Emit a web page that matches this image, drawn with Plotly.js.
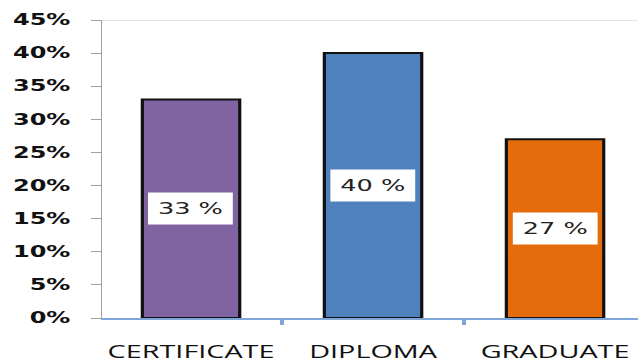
<!DOCTYPE html>
<html>
<head>
<meta charset="utf-8">
<script src="https://cdn.plot.ly/plotly-3.0.1.min.js"></script>
<style>
  html, body { margin: 0; padding: 0; background: #ffffff; overflow: hidden; }
  #wrap { width: 638px; height: 362px; overflow: hidden; }
  /* the chart is laid out narrow and widened horizontally */
  #chart { width: 399px; height: 362px; transform: scaleX(1.6); transform-origin: 0 0; }
</style>
</head>
<body>
<div id="wrap"><div id="chart"></div></div>
<script>
// Share of enrolment by qualification level
const categories = ['CERTIFICATE', 'DIPLOMA', 'GRADUATE'];
const shares = [0.33, 0.40, 0.27];
const barColors = ['#8064A2', '#4F81BD', '#E46C0A'];
const yTickStep = 0.05;
const yMax = 0.45;

const labelText = shares.map(v => Math.round(v * 100) + ' %');

const bars = {
  type: 'bar',
  x: categories,
  y: shares,
  width: 0.535,
  marker: {
    color: barColors,
    line: { color: '#111111', width: 2 }
  },
  hoverinfo: 'none'
};

// value tags sitting mid-bar on white boxes
const tags = categories.map((c, i) => ({
  x: c,
  y: shares[i] / 2,
  xref: 'x',
  yref: 'y',
  text: labelText[i],
  showarrow: false,
  bgcolor: '#ffffff',
  width: 50,
  height: 29,
  font: { family: 'DejaVu Sans', size: 16, color: '#222222' }
}));

const layout = {
  width: 399,
  height: 362,
  margin: { l: 64, r: 0, t: 20, b: 44 },
  paper_bgcolor: '#ffffff',
  plot_bgcolor: '#ffffff',
  showlegend: false,
  bargap: 0.465,
  xaxis: {
    type: 'category',
    range: [-0.487, 2.458],
    tickson: 'boundaries',
    ticks: 'outside',
    ticklen: 5,
    tickwidth: 2,
    tickcolor: '#7FA6D8',
    showline: true,
    linecolor: '#7FA6D8',
    linewidth: 2,
    showgrid: false,
    zeroline: false,
    tickangle: 0,
    ticklabelstandoff: 16,
    tickfont: { family: 'Open Sans', size: 18, color: '#111111' },
    fixedrange: true
  },
  yaxis: {
    range: [0, yMax],
    dtick: yTickStep,
    tick0: 0,
    tickformat: '.0%',
    ticks: 'outside',
    ticklen: 6,
    tickwidth: 1,
    tickcolor: '#A0A0A0',
    showline: true,
    linecolor: '#A0A0A0',
    linewidth: 1,
    showgrid: false,
    zeroline: false,
    ticklabelstandoff: 10,
    tickfont: { family: 'DejaVu Sans', size: 15, color: '#111111', weight: 'bold' },
    fixedrange: true
  },
  shapes: [{
    type: 'line',
    xref: 'paper', yref: 'y',
    x0: 0, x1: 1, y0: yMax, y1: yMax,
    line: { color: '#C8C8C8', width: 1 },
    layer: 'below'
  }],
  annotations: tags
};

Plotly.newPlot('chart', [bars], layout, { staticPlot: true, displayModeBar: false });
</script>
</body>
</html>
